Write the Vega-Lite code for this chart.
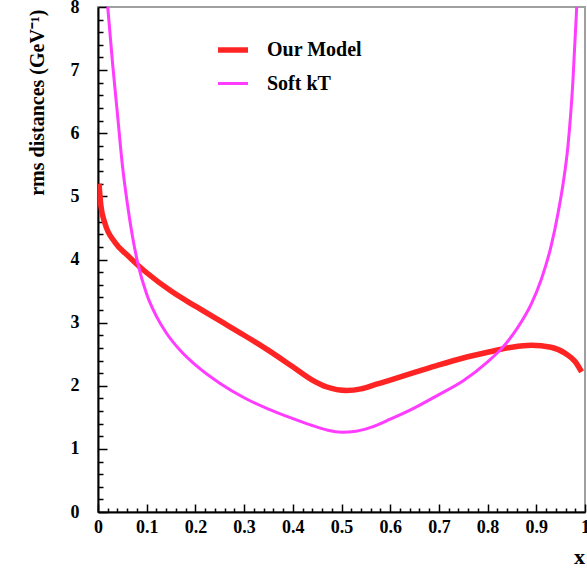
{
  "$schema": "https://vega.github.io/schema/vega-lite/v6.json",
  "width": 487,
  "height": 505,
  "autosize": {"type": "none"},
  "padding": {"left": 98, "top": 7, "right": 2, "bottom": 59},
  "background": "white",
  "config": {
    "view": {"stroke": "#a0a0a0", "strokeWidth": 2},
    "font": "Liberation Serif"
  },
  "data": {
    "values": [
      {"x": 0.002, "y": 5.2, "s": "Our Model"},
      {"x": 0.006, "y": 4.85, "s": "Our Model"},
      {"x": 0.014, "y": 4.58, "s": "Our Model"},
      {"x": 0.035, "y": 4.27, "s": "Our Model"},
      {"x": 0.06, "y": 4.07, "s": "Our Model"},
      {"x": 0.082, "y": 3.91, "s": "Our Model"},
      {"x": 0.1, "y": 3.79, "s": "Our Model"},
      {"x": 0.15, "y": 3.5, "s": "Our Model"},
      {"x": 0.2, "y": 3.26, "s": "Our Model"},
      {"x": 0.25, "y": 3.03, "s": "Our Model"},
      {"x": 0.3, "y": 2.8, "s": "Our Model"},
      {"x": 0.35, "y": 2.56, "s": "Our Model"},
      {"x": 0.4, "y": 2.3, "s": "Our Model"},
      {"x": 0.44, "y": 2.09, "s": "Our Model"},
      {"x": 0.47, "y": 1.98, "s": "Our Model"},
      {"x": 0.51, "y": 1.925, "s": "Our Model"},
      {"x": 0.54, "y": 1.95, "s": "Our Model"},
      {"x": 0.57, "y": 2.02, "s": "Our Model"},
      {"x": 0.6, "y": 2.09, "s": "Our Model"},
      {"x": 0.65, "y": 2.21, "s": "Our Model"},
      {"x": 0.7, "y": 2.33, "s": "Our Model"},
      {"x": 0.75, "y": 2.44, "s": "Our Model"},
      {"x": 0.8, "y": 2.53, "s": "Our Model"},
      {"x": 0.85, "y": 2.61, "s": "Our Model"},
      {"x": 0.89, "y": 2.64, "s": "Our Model"},
      {"x": 0.93, "y": 2.61, "s": "Our Model"},
      {"x": 0.96, "y": 2.51, "s": "Our Model"},
      {"x": 0.98, "y": 2.38, "s": "Our Model"},
      {"x": 0.993, "y": 2.22, "s": "Our Model"},
      {"x": 0.02, "y": 8.0, "s": "Soft kT"},
      {"x": 0.03, "y": 7.1, "s": "Soft kT"},
      {"x": 0.04, "y": 6.3, "s": "Soft kT"},
      {"x": 0.05, "y": 5.5, "s": "Soft kT"},
      {"x": 0.06, "y": 4.9, "s": "Soft kT"},
      {"x": 0.07, "y": 4.4, "s": "Soft kT"},
      {"x": 0.082, "y": 3.93, "s": "Soft kT"},
      {"x": 0.1, "y": 3.45, "s": "Soft kT"},
      {"x": 0.12, "y": 3.1, "s": "Soft kT"},
      {"x": 0.14, "y": 2.84, "s": "Soft kT"},
      {"x": 0.17, "y": 2.55, "s": "Soft kT"},
      {"x": 0.2, "y": 2.33, "s": "Soft kT"},
      {"x": 0.25, "y": 2.04, "s": "Soft kT"},
      {"x": 0.3, "y": 1.81, "s": "Soft kT"},
      {"x": 0.35, "y": 1.63, "s": "Soft kT"},
      {"x": 0.4, "y": 1.48, "s": "Soft kT"},
      {"x": 0.44, "y": 1.37, "s": "Soft kT"},
      {"x": 0.47, "y": 1.3, "s": "Soft kT"},
      {"x": 0.5, "y": 1.265, "s": "Soft kT"},
      {"x": 0.53, "y": 1.28, "s": "Soft kT"},
      {"x": 0.56, "y": 1.34, "s": "Soft kT"},
      {"x": 0.6, "y": 1.47, "s": "Soft kT"},
      {"x": 0.65, "y": 1.65, "s": "Soft kT"},
      {"x": 0.7, "y": 1.86, "s": "Soft kT"},
      {"x": 0.75, "y": 2.08, "s": "Soft kT"},
      {"x": 0.8, "y": 2.38, "s": "Soft kT"},
      {"x": 0.83, "y": 2.6, "s": "Soft kT"},
      {"x": 0.86, "y": 2.9, "s": "Soft kT"},
      {"x": 0.89, "y": 3.3, "s": "Soft kT"},
      {"x": 0.91, "y": 3.68, "s": "Soft kT"},
      {"x": 0.93, "y": 4.2, "s": "Soft kT"},
      {"x": 0.945, "y": 4.75, "s": "Soft kT"},
      {"x": 0.955, "y": 5.2, "s": "Soft kT"},
      {"x": 0.965, "y": 5.8, "s": "Soft kT"},
      {"x": 0.975, "y": 6.8, "s": "Soft kT"},
      {"x": 0.983, "y": 8.0, "s": "Soft kT"}
    ]
  },
  "mark": {"type": "line", "interpolate": "monotone", "clip": true},
  "encoding": {
    "x": {
      "field": "x",
      "type": "quantitative",
      "scale": {"domain": [0, 1], "nice": false, "zero": false},
      "axis": {
        "title": "x",
        "titleFont": "Liberation Serif",
        "titleFontSize": 22,
        "titleFontWeight": "bold",
        "titleColor": "black",
        "titleX": 481,
        "titleY": 44,
        "titleAlign": "center",
        "titleBaseline": "middle",
        "values": [0,0.02,0.04,0.06,0.08,0.1,0.12,0.14,0.16,0.18,0.2,0.22,0.24,0.26,0.28,0.3,0.32,0.34,0.36,0.38,0.4,0.42,0.44,0.46,0.48,0.5,0.52,0.54,0.56,0.58,0.6,0.62,0.64,0.66,0.68,0.7,0.72,0.74,0.76,0.78,0.8,0.82,0.84,0.86,0.88,0.9,0.92,0.94,0.96,0.98,1],
        "labelExpr": "abs(datum.value*10 - round(datum.value*10)) < 0.001 ? format(datum.value, '~g') : ''",
        "labelFont": "Liberation Serif",
        "labelFontSize": 18,
        "labelFontWeight": "bold",
        "labelColor": "black",
        "labelPadding": 14,
        "labelOverlap": false,
        "labelFlush": false,
        "domainColor": "black",
        "domainWidth": 2,
        "tickColor": "black",
        "tickWidth": 1.5,
        "tickSize": {"condition": {"test": "abs(datum.value*10 - round(datum.value*10)) < 0.001", "value": -8}, "value": -4},
        "grid": false
      }
    },
    "y": {
      "field": "y",
      "type": "quantitative",
      "scale": {"domain": [0, 8], "nice": false},
      "axis": {
        "title": "rms distances (GeV⁻¹)",
        "titleFont": "Liberation Serif",
        "titleFontSize": 20,
        "titleFontWeight": "bold",
        "titleColor": "black",
        "titleAngle": -90,
        "titleX": -61,
        "titleY": 2,
        "titleAlign": "right",
        "titleBaseline": "middle",
        "values": [0,0.2,0.4,0.6,0.8,1,1.2,1.4,1.6,1.8,2,2.2,2.4,2.6,2.8,3,3.2,3.4,3.6,3.8,4,4.2,4.4,4.6,4.8,5,5.2,5.4,5.6,5.8,6,6.2,6.4,6.6,6.8,7,7.2,7.4,7.6,7.8,8],
        "labelExpr": "abs(datum.value - round(datum.value)) < 0.001 ? format(datum.value, '~g') : ''",
        "labelFont": "Liberation Serif",
        "labelFontSize": 18,
        "labelFontWeight": "bold",
        "labelColor": "black",
        "labelPadding": 28,
        "labelOverlap": false,
        "labelFlush": false,
        "domainColor": "black",
        "domainWidth": 2,
        "tickColor": "black",
        "tickWidth": 1.5,
        "tickSize": {"condition": {"test": "abs(datum.value - round(datum.value)) < 0.001", "value": -9}, "value": -5},
        "grid": false
      }
    },
    "color": {
      "field": "s",
      "type": "nominal",
      "scale": {"domain": ["Our Model", "Soft kT"], "range": ["#ff2424", "#ff3cff"]},
      "legend": {
        "title": null,
        "orient": "none",
        "legendX": 117,
        "legendY": 25,
        "symbolType": "stroke",
        "symbolSize": 900,
        "symbolStrokeWidth": 4,
        "labelFont": "Liberation Serif",
        "labelFontSize": 20,
        "labelFontWeight": "bold",
        "labelColor": "black",
        "labelOffset": 16,
        "rowPadding": 6
      }
    },
    "strokeWidth": {
      "field": "s",
      "type": "nominal",
      "scale": {"domain": ["Our Model", "Soft kT"], "range": [5.5, 3]},
      "legend": null
    }
  }
}
